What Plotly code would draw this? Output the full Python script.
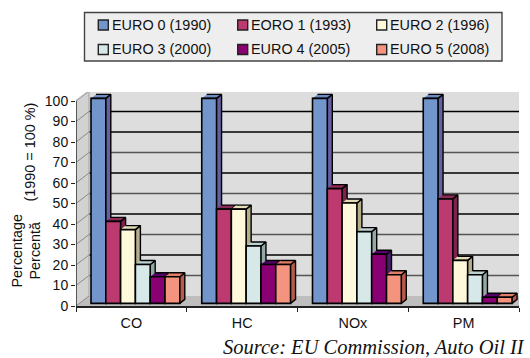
import plotly.graph_objects as go

# Emission limits relative to the 1990 level, by pollutant and standard
categories = ["CO", "HC", "NOx", "PM"]
series_names = ["EURO 0 (1990)", "EORO 1 (1993)", "EURO 2 (1996)",
                "EURO 3 (2000)", "EURO 4 (2005)", "EURO 5 (2008)"]
euro0 = [100, 100, 100, 100]
euro1 = [40, 46, 56, 51]
euro2 = [36, 46, 49, 21]
euro3 = [19, 28, 35, 14]
euro4 = [13, 19, 24, 3]
euro5 = [13, 19, 14, 3]
y_ticks = list(range(0, 101, 10))

series_values = [euro0, euro1, euro2, euro3, euro4, euro5]
front_colors = ["#7296CC", "#BC3A70", "#FFF9DC", "#D6E9E8", "#880072", "#F4937E"]
side_colors = ["#65609F", "#7E2350", "#B6AF8C", "#92A8A6", "#4A1C6E", "#B85A4C"]
top_colors = ["#6C8CC6", "#8E2A58", "#E4DDB6", "#BCD2D2", "#58006C", "#E27E68"]

# Plot frame in pixels
W, H = 530, 358
LEFT, RIGHT, BOTTOM, TOP = 76, 519, 306, 92
PX_PER_CAT = (RIGHT - LEFT) / len(categories)
PX_PER_UNIT = 2.05
y_top = (BOTTOM - TOP) / PX_PER_UNIT


def dx(px):
    return px / PX_PER_CAT


def dy(px):
    return px / PX_PER_UNIT


def paper_x(px):
    return (px - LEFT) / (RIGHT - LEFT)


def paper_y(px):
    return (BOTTOM - px) / (BOTTOM - TOP)


# Oblique projection offsets
WALL_DX, WALL_DY = dx(13), dy(10)
BAR_DX, BAR_DY = dx(5), dy(4)
LIFT = dy(2.6)
GROUP_PAD = dx(15)
BAR_W = dx(14.8)
x_end = len(categories)

fig = go.Figure()


def polygon(xs, ys, fill, line="rgba(0,0,0,0)", width=0):
    fig.add_trace(go.Scatter(
        x=xs, y=ys, mode="lines", fill="toself", fillcolor=fill,
        line=dict(color=line, width=width), hoverinfo="skip",
        showlegend=False, cliponaxis=False, xaxis="x", yaxis="y"))


def segment(xs, ys, color, width):
    fig.add_trace(go.Scatter(
        x=xs, y=ys, mode="lines", line=dict(color=color, width=width),
        hoverinfo="skip", showlegend=False, cliponaxis=False,
        xaxis="x", yaxis="y"))


# Side wall, back wall and floor
polygon([0, WALL_DX, WALL_DX, 0], [0, WALL_DY, 100 + WALL_DY, 100], "#D2D2D2")
polygon([WALL_DX, x_end + WALL_DX, x_end + WALL_DX, WALL_DX],
        [WALL_DY, WALL_DY, 100 + WALL_DY, 100 + WALL_DY], "#DDDDDD")
polygon([0, x_end, x_end + WALL_DX, WALL_DX], [0, 0, WALL_DY, WALL_DY], "#BEBEBE")

# Gridlines run across the back wall and fold down the side wall
for v in y_ticks[1:-1]:
    strong = v in (20, 40, 60, 80, 90)
    segment([WALL_DX, x_end + WALL_DX], [v + WALL_DY, v + WALL_DY],
            "#000000" if strong else "#555555", 1.3)
    segment([0, WALL_DX], [v, v + WALL_DY], "#888888", 1)
segment([0, WALL_DX, x_end + WALL_DX], [100, 100 + WALL_DY, 100 + WALL_DY], "#AAAAAA", 1.5)
segment([WALL_DX, WALL_DX], [WALL_DY, 100 + WALL_DY], "#AAAAAA", 1.2)
segment([0, WALL_DX], [0, WALL_DY], "#888888", 1)
segment([x_end, x_end + WALL_DX], [0, WALL_DY], "#333333", 1.2)
segment([0, 0], [0, 100], "#222222", 1.4)

# Tops and right-hand sides of the bars, painted left to right
for c in range(len(categories)):
    for s, values in enumerate(series_values):
        x0 = c + GROUP_PAD + s * BAR_W
        x1 = x0 + BAR_W
        top = values[c] + LIFT
        polygon([x1, x1 + BAR_DX, x1 + BAR_DX, x1],
                [LIFT, LIFT + BAR_DY, top + BAR_DY, top],
                side_colors[s], "#000000", 1.4)
        polygon([x0, x1, x1 + BAR_DX, x0 + BAR_DX],
                [top, top, top + BAR_DY, top + BAR_DY],
                top_colors[s], "#000000", 1.4)

# Front faces sit on an overlay so that they cover the neighbouring sides
for s, values in enumerate(series_values):
    fig.add_trace(go.Bar(
        name=series_names[s],
        x=[c + GROUP_PAD + s * BAR_W for c in range(len(categories))],
        y=values, base=LIFT, width=BAR_W, offset=0,
        marker=dict(color=front_colors[s], line=dict(color="#000000", width=1.6)),
        showlegend=False, xaxis="x2", yaxis="y2"))

# Legend box
shapes = [dict(type="rect", xref="paper", yref="paper",
               x0=paper_x(84.5), x1=paper_x(502), y0=paper_y(61), y1=paper_y(12.5),
               fillcolor="#EEEEEE", line=dict(color="#444444", width=1.4))]
annotations = []
col_px = [98.3, 237.7, 376.7]
row_px = [25, 49.5]
for i, name in enumerate(series_names):
    px, py = col_px[i % 3], row_px[i // 3]
    shapes.append(dict(type="rect", xref="paper", yref="paper",
                       x0=paper_x(px), x1=paper_x(px + 10),
                       y0=paper_y(py + 5), y1=paper_y(py - 5),
                       fillcolor=front_colors[i], line=dict(color="#222222", width=1.4)))
    annotations.append(dict(text=name, xref="paper", yref="paper", showarrow=False,
                            x=paper_x(px + 11.5), y=paper_y(py), xanchor="left", yanchor="middle",
                            font=dict(size=14.4, color="#111111")))

# Axis caption and source line
for text, cx, cy in [("(1990 = 100 %)", 29, 152.5), ("Percentage", 16, 250.5), ("Percentă", 34, 250.5)]:
    annotations.append(dict(text=text, xref="paper", yref="paper", showarrow=False, textangle=-90,
                            x=paper_x(cx), y=paper_y(cy), xanchor="center", yanchor="middle",
                            font=dict(size=14.4, color="#111111")))
annotations.append(dict(text="<i>Source: EU Commission, Auto Oil II</i>", xref="paper", yref="paper",
                        showarrow=False, x=paper_x(221), y=paper_y(347), xanchor="left", yanchor="middle",
                        font=dict(family="Liberation Serif", size=20.5, color="#111111")))

fig.update_layout(
    width=W, height=H, margin=dict(l=LEFT, r=W - RIGHT, t=TOP, b=H - BOTTOM, pad=0),
    paper_bgcolor="white", plot_bgcolor="white", barmode="overlay",
    font=dict(family="Liberation Sans, Arial, sans-serif", color="#111111", size=14),
    shapes=shapes, annotations=annotations,
    xaxis=dict(range=[0, x_end], tickmode="array",
               tickvals=[c + 0.5 for c in range(len(categories))], ticktext=categories,
               ticks="", ticklabelstandoff=3, showgrid=False, zeroline=False,
               showline=True, linecolor="#222222", linewidth=1.5,
               minor=dict(tickvals=list(range(len(categories) + 1)), ticks="outside",
                          ticklen=4, tickcolor="#222222", tickwidth=1.2, showgrid=False),
               tickfont=dict(size=14.4)),
    yaxis=dict(range=[0, y_top], tickmode="array", tickvals=y_ticks, ticks="outside",
               ticklen=4, tickcolor="#222222", tickwidth=1.2, showgrid=False, zeroline=False,
               showline=False, tickfont=dict(size=14)),
    xaxis2=dict(range=[0, x_end], overlaying="x", visible=False),
    yaxis2=dict(range=[0, y_top], overlaying="y", visible=False),
)

fig.write_html("out.html")
